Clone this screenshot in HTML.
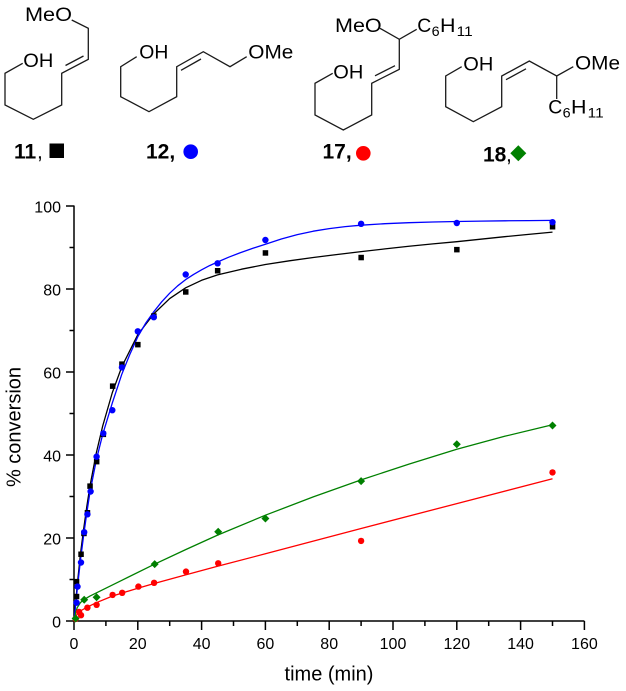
<!DOCTYPE html>
<html>
<head>
<meta charset="utf-8">
<style>
html,body{margin:0;padding:0;background:#fff;}
svg{display:block;}
text{font-family:"Liberation Sans",Arial,sans-serif;fill:#000;}
</style>
</head>
<body>
<svg width="626" height="691" viewBox="0 0 626 691" xmlns="http://www.w3.org/2000/svg">
<rect width="626" height="691" fill="#fff"/>

<!-- ===== Structures ===== -->
<g fill="none" stroke="#1a1a1a" stroke-width="1.3" stroke-linejoin="miter">
  <path d="M71.7,20 L88.3,28.3 L88.3,59.3 L61.7,73.3 L61.7,105 L33.3,119.3 L5,105 L5,73.3 L22.7,63.3"/>
  <path d="M65.5,65.5 L83.5,56"/>
  <path d="M136.7,56.7 L120.7,66.7 L120.7,96.7 L149,111.7 L176.7,96.7 L176.7,66.7 L203.3,51.7 L230,66.7 L246.7,56.7"/>
  <path d="M181,70.3 L201,59"/>
  <path d="M380,28.3 L399.3,39.3 L416.7,29.3"/>
  <path d="M399.3,39.3 L399.3,69.3 L371.7,83.3 L371.7,115 L343.3,130 L315,115 L315,83.3 L332.7,73.3"/>
  <path d="M375,75.8 L395,65.7"/>
  <path d="M461.7,66.7 L445.7,76 L445.7,106.7 L473.3,121.7 L501.7,106.7 L501.7,76 L529.3,61 L556.7,76 L573.3,66.7"/>
  <path d="M556.7,76 L556.7,99"/>
  <path d="M506,79.7 L526,68.8"/>
</g>

<g font-size="19">
  <text x="25" y="21.2" textLength="47" lengthAdjust="spacingAndGlyphs">MeO</text>
  <text x="23.3" y="67" textLength="30" lengthAdjust="spacingAndGlyphs">OH</text>
  <text x="139.3" y="58.6" textLength="29" lengthAdjust="spacingAndGlyphs">OH</text>
  <text x="248.3" y="58.6" textLength="45" lengthAdjust="spacingAndGlyphs">OMe</text>
  <text x="335" y="32" textLength="46.7" lengthAdjust="spacingAndGlyphs">MeO</text>
  <text x="417.3" y="32" textLength="14" lengthAdjust="spacingAndGlyphs">C</text>
  <text x="431.7" y="36" font-size="14" textLength="8" lengthAdjust="spacingAndGlyphs">6</text>
  <text x="440" y="32" textLength="15.5" lengthAdjust="spacingAndGlyphs">H</text>
  <text x="456.7" y="36" font-size="14" textLength="16" lengthAdjust="spacingAndGlyphs">11</text>
  <text x="333.3" y="78.6" textLength="30" lengthAdjust="spacingAndGlyphs">OH</text>
  <text x="463.3" y="70.3" textLength="30" lengthAdjust="spacingAndGlyphs">OH</text>
  <text x="575" y="69.6" textLength="45" lengthAdjust="spacingAndGlyphs">OMe</text>
  <text x="548.3" y="113.6" textLength="14" lengthAdjust="spacingAndGlyphs">C</text>
  <text x="562.7" y="117.5" font-size="14" textLength="8" lengthAdjust="spacingAndGlyphs">6</text>
  <text x="571" y="113.6" textLength="15.5" lengthAdjust="spacingAndGlyphs">H</text>
  <text x="587.7" y="117.5" font-size="14" textLength="16" lengthAdjust="spacingAndGlyphs">11</text>
</g>

<g font-size="21" font-weight="bold">
  <text x="14" y="158.5">11</text>
  <text x="37" y="158.5" font-weight="normal">,</text>
  <text x="146" y="158.5">12,</text>
  <text x="322.5" y="158.5">17,</text>
  <text x="483" y="161.5">18</text>
  <text x="506" y="161.5" font-weight="normal">,</text>
</g>
<rect x="49.5" y="143.5" width="14.5" height="14.5" fill="#000"/>
<circle cx="190.7" cy="151.7" r="7.3" fill="#0000ff"/>
<circle cx="363.3" cy="153.3" r="7.3" fill="#ff0000"/>
<polygon points="518.3,145.3 526.3,153.3 518.3,161.3 510.3,153.3" fill="#008000"/>

<!-- ===== Chart axes ===== -->
<g stroke="#000" stroke-width="1.5" fill="none">
  <line x1="74" y1="205.5" x2="74" y2="621.7"/>
  <line x1="73.3" y1="621" x2="584.4" y2="621"/>
  <path d="M66,621H74 M66,538H74 M66,455H74 M66,372H74 M66,289H74 M66,206H74"/>
  <path d="M69.5,579.5H74 M69.5,496.5H74 M69.5,413.5H74 M69.5,330.5H74 M69.5,247.5H74"/>
  <path d="M74,621V630 M137.8,621V630 M201.6,621V630 M265.4,621V630 M329.2,621V630 M393,621V630 M456.8,621V630 M520.6,621V630 M584.4,621V630"/>
  <path d="M105.9,621V626 M169.7,621V626 M233.5,621V626 M297.3,621V626 M361.1,621V626 M424.9,621V626 M488.7,621V626 M552.5,621V626"/>
</g>

<g font-size="16" text-anchor="end">
  <text x="61" y="627.7">0</text>
  <text x="61" y="544.7">20</text>
  <text x="61" y="461.7">40</text>
  <text x="61" y="378.7">60</text>
  <text x="61" y="295.7">80</text>
  <text x="61" y="212.7">100</text>
</g>
<g font-size="16" text-anchor="middle">
  <text x="74" y="649">0</text>
  <text x="137.8" y="649">20</text>
  <text x="201.6" y="649">40</text>
  <text x="265.4" y="649">60</text>
  <text x="329.2" y="649">80</text>
  <text x="393" y="649">100</text>
  <text x="456.8" y="649">120</text>
  <text x="520.6" y="649">140</text>
  <text x="584.4" y="649">160</text>
</g>
<text x="329" y="680.5" font-size="20" text-anchor="middle">time (min)</text>
<text transform="translate(20.5,427) rotate(-90)" font-size="20" text-anchor="middle">% conversion</text>

<!-- ===== Fitted curves ===== -->
<g fill="none" stroke-width="1.3" stroke-linejoin="round">
  <polyline stroke="#000" points="74,621 77.19,585.7 80.38,554.6 83.57,529.7 86.76,506.9 89.95,486.1 96.33,452.9 102.71,425.95 112.28,392.75 121.85,366.6 137.8,334.65 153.75,313.9 169.7,298.55 185.65,287.8 201.6,280.3 217.55,274.9 241.5,269.2 265.4,264.5 289.3,260.8 313.25,257.5 337.2,254.5 361.1,251.65 385,248.9 408.95,246.25 432.9,243.9 456.8,241.7 480.7,239.2 504.65,236.7 528.6,234.4 552.5,232.15"/>
  <polyline stroke="#0000ff" points="74,621 77.19,589.9 80.38,560.8 83.57,535.9 86.76,513.1 89.95,492.4 96.33,460 102.71,434.3 112.28,403.1 121.85,374.1 129.8,354.5 137.8,336.7 145.8,323 153.75,311.8 161.7,301.8 169.7,293.2 177.7,285.8 185.65,279.6 193.6,274.4 201.6,269.8 209.6,265.6 217.55,262 228.7,257.2 239.88,252.9 252.6,248.4 265.4,244.2 281.3,239 297.3,234.6 313.2,231.2 329.2,228.6 345.2,226.6 361.1,225.2 385,223.7 408.95,222.7 432.9,222 456.8,221.5 480.7,221.1 504.65,220.8 528.6,220.6 552.5,220.4"/>
  <polyline stroke="#ff0000" points="74,621 75.6,616.85 77.19,613.95 80.38,611 86.76,607.3 96.33,602.7 112.28,596.1 137.8,588.2 153.75,583.65 185.65,574.9 217.55,566.2 265.4,553.8 361.1,528.5 456.8,503.6 552.5,478.7"/>
  <polyline stroke="#008000" points="74,621 75.6,612.7 77.19,607.7 80.38,602.7 83.57,599.8 89.95,596.1 105.9,588.2 121.85,580.3 153.75,564.6 185.65,549.6 217.55,535.1 265.4,515.2 313.25,496.9 361.1,479.9 408.95,464.1 456.8,449.2 504.65,436.3 552.5,424.7"/>
</g>

<!-- ===== Markers ===== -->
<g fill="#000">
  <rect x="73.8" y="593.8" width="5.5" height="5.5"/>
  <rect x="73.8" y="578.9" width="5.5" height="5.5"/>
  <rect x="78.3" y="551.5" width="5.5" height="5.5"/>
  <rect x="81.2" y="530.7" width="5.5" height="5.5"/>
  <rect x="84.7" y="510" width="5.5" height="5.5"/>
  <rect x="87.3" y="483.4" width="5.5" height="5.5"/>
  <rect x="93.9" y="458.9" width="5.5" height="5.5"/>
  <rect x="100.6" y="431.6" width="5.5" height="5.5"/>
  <rect x="109.9" y="383.4" width="5.5" height="5.5"/>
  <rect x="119.2" y="361.4" width="5.5" height="5.5"/>
  <rect x="135.1" y="341.9" width="5.5" height="5.5"/>
  <rect x="151.1" y="313.3" width="5.5" height="5.5"/>
  <rect x="183" y="289.2" width="5.5" height="5.5"/>
  <rect x="214.9" y="268" width="5.5" height="5.5"/>
  <rect x="262.7" y="250.2" width="5.5" height="5.5"/>
  <rect x="358.4" y="254.8" width="5.5" height="5.5"/>
  <rect x="454.1" y="246.9" width="5.5" height="5.5"/>
  <rect x="549.8" y="224" width="5.5" height="5.5"/>
</g>
<g fill="#0000ff">
  <circle cx="76.55" cy="602.7" r="3.2"/>
  <circle cx="77.5" cy="586.6" r="3.2"/>
  <circle cx="81" cy="562.5" r="3.2"/>
  <circle cx="84.2" cy="532.2" r="3.2"/>
  <circle cx="87.4" cy="514.3" r="3.2"/>
  <circle cx="90.6" cy="491.5" r="3.2"/>
  <circle cx="96.6" cy="456.7" r="3.2"/>
  <circle cx="103.3" cy="433.4" r="3.2"/>
  <circle cx="112.3" cy="410.2" r="3.2"/>
  <circle cx="121.9" cy="367.4" r="3.2"/>
  <circle cx="137.8" cy="331.3" r="3.2"/>
  <circle cx="153.8" cy="317.2" r="3.2"/>
  <circle cx="185.7" cy="274.5" r="3.2"/>
  <circle cx="217.6" cy="263.3" r="3.2"/>
  <circle cx="265.4" cy="240" r="3.2"/>
  <circle cx="361.1" cy="223.8" r="3.2"/>
  <circle cx="456.8" cy="223" r="3.2"/>
  <circle cx="552.5" cy="222.2" r="3.2"/>
</g>
<g fill="#ff0000">
  <circle cx="75.6" cy="618.9" r="3.2"/>
  <circle cx="79.1" cy="611.9" r="3.2"/>
  <circle cx="81" cy="615.2" r="3.2"/>
  <circle cx="87.4" cy="607.7" r="3.2"/>
  <circle cx="96.6" cy="604.8" r="3.2"/>
  <circle cx="112.6" cy="594.9" r="3.2"/>
  <circle cx="122.2" cy="592.8" r="3.2"/>
  <circle cx="138.4" cy="586.6" r="3.2"/>
  <circle cx="154.1" cy="582.8" r="3.2"/>
  <circle cx="186" cy="571.6" r="3.2"/>
  <circle cx="218.2" cy="563.3" r="3.2"/>
  <circle cx="361.1" cy="540.9" r="3.2"/>
  <circle cx="552.5" cy="472.4" r="3.2"/>
</g>
<g fill="#008000">
  <polygon points="75.6,614.5 79.6,618.5 75.6,622.5 71.6,618.5"/>
  <polygon points="84.2,595.8 88.2,599.8 84.2,603.8 80.2,599.8"/>
  <polygon points="96.6,593.3 100.6,597.3 96.6,601.3 92.6,597.3"/>
  <polygon points="154.7,560.1 158.7,564.1 154.7,568.1 150.7,564.1"/>
  <polygon points="218.2,527.8 222.2,531.8 218.2,535.8 214.2,531.8"/>
  <polygon points="265.4,514.5 269.4,518.5 265.4,522.5 261.4,518.5"/>
  <polygon points="361.1,477.1 365.1,481.1 361.1,485.1 357.1,481.1"/>
  <polygon points="456.8,440.2 460.8,444.2 456.8,448.2 452.8,444.2"/>
  <polygon points="552.5,421.5 556.5,425.5 552.5,429.5 548.5,425.5"/>
</g>
</svg>
</body>
</html>
